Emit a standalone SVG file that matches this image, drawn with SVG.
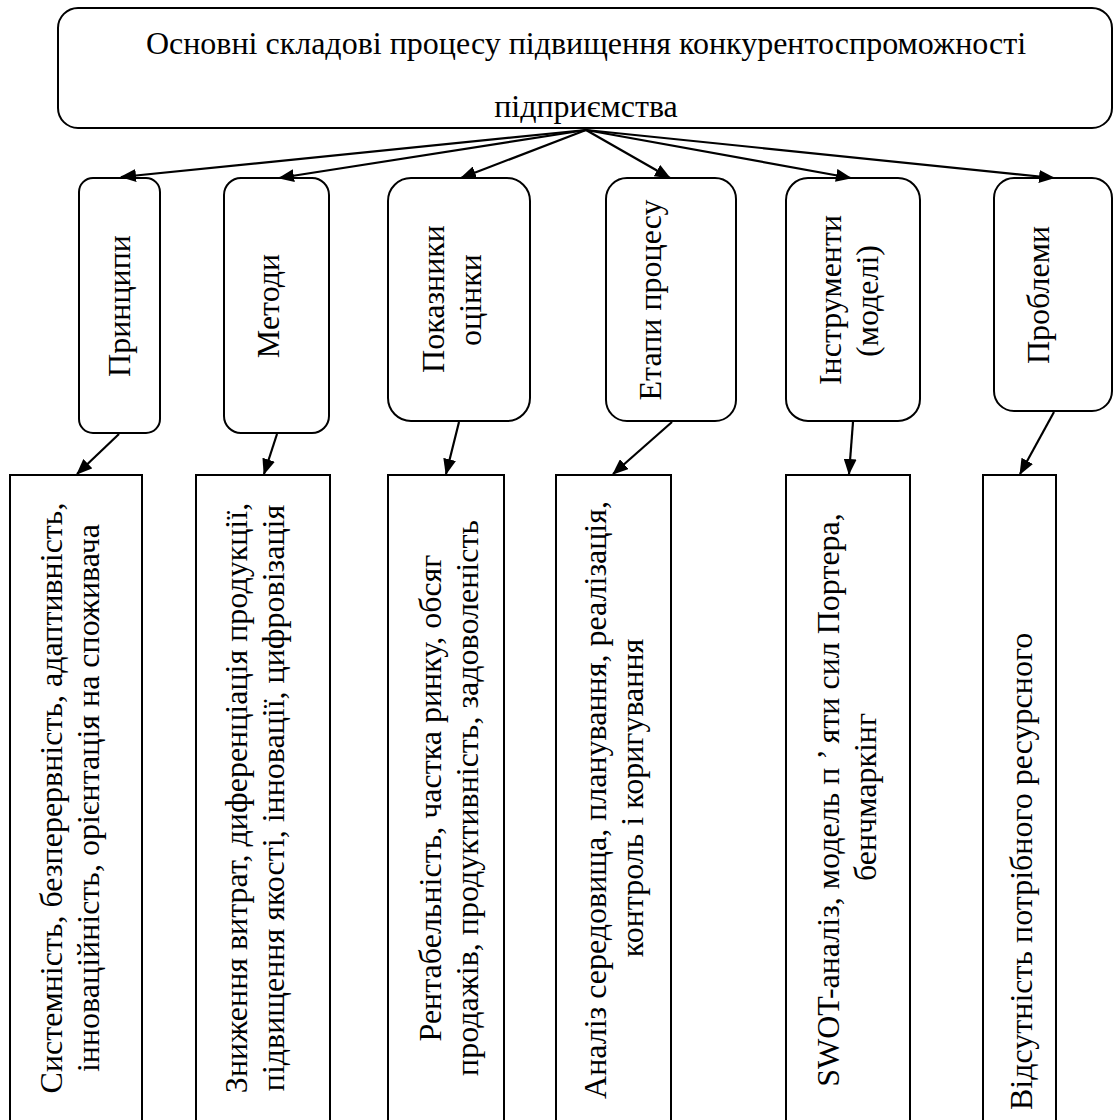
<svg xmlns="http://www.w3.org/2000/svg" width="1114" height="1120" viewBox="0 0 1114 1120">
<style>
.box{fill:#fff;stroke:#000;stroke-width:2}
.t{font-family:"Liberation Serif","Times New Roman",serif;font-size:32px;fill:#000}
.m{text-anchor:middle}
.c{stroke:#000;stroke-width:2.2;fill:none;marker-end:url(#ah)}
</style>
<defs>
<marker id="ah" markerWidth="16" markerHeight="13" refX="15" refY="6.5" orient="auto" markerUnits="userSpaceOnUse">
<path d="M0,0 L16,6.5 L0,13 z" fill="#000"/>
</marker>
</defs>
<rect width="1114" height="1120" fill="#fff"/>
<g id="root">
<rect class="box" x="58" y="8" width="1054" height="120" rx="20"/>
<text class="t m" x="586" y="54">Основні складові процесу підвищення конкурентоспроможності</text>
<text class="t m" x="586" y="117">підприємства</text>
</g>
<g id="n-pryntsypy">
<rect class="box" x="79" y="178" width="81" height="255" rx="14"/>
<text class="t m" transform="translate(130,306) rotate(-90)">Принципи</text>
</g>
<g id="n-metody">
<rect class="box" x="224" y="178" width="105" height="255" rx="17"/>
<text class="t m" transform="translate(279,306) rotate(-90)">Методи</text>
</g>
<g id="n-pokaznyky">
<rect class="box" x="388" y="178" width="142" height="243" rx="23"/>
<text class="t m" transform="translate(444,299) rotate(-90)">Показники</text>
<text class="t m" transform="translate(481,300) rotate(-90)">оцінки</text>
</g>
<g id="n-etapy">
<rect class="box" x="606" y="178" width="130" height="243" rx="21"/>
<text class="t m" transform="translate(661,300) rotate(-90)">Етапи процесу</text>
</g>
<g id="n-instrumenty">
<rect class="box" x="786" y="178" width="134" height="243" rx="22"/>
<text class="t m" transform="translate(841,300) rotate(-90)">Інструменти</text>
<text class="t m" transform="translate(878,301) rotate(-90)">(моделі)</text>
</g>
<g id="n-problemy">
<rect class="box" x="994" y="178" width="118" height="233" rx="20"/>
<text class="t m" transform="translate(1049,295) rotate(-90)">Проблеми</text>
</g>
<g id="d-pryntsypy">
<rect class="box" x="10" y="475" width="132" height="650"/>
<text class="t m" transform="translate(62,798) rotate(-90)">Системність, безперервність, адаптивність,</text>
<text class="t m" transform="translate(99,798) rotate(-90)">інноваційність, орієнтація на споживача</text>
</g>
<g id="d-metody">
<rect class="box" x="196" y="475" width="134" height="650"/>
<text class="t m" transform="translate(247,798) rotate(-90)">Зниження витрат, диференціація продукції,</text>
<text class="t m" transform="translate(284,798) rotate(-90)">підвищення якості, інновації, цифровізація</text>
</g>
<g id="d-pokaznyky">
<rect class="box" x="388" y="475" width="116" height="650"/>
<text class="t m" transform="translate(441,798) rotate(-90)">Рентабельність, частка ринку, обсяг</text>
<text class="t m" transform="translate(478,798) rotate(-90)">продажів, продуктивність, задоволеність</text>
</g>
<g id="d-etapy">
<rect class="box" x="556" y="475" width="115" height="650"/>
<text class="t m" transform="translate(606,800) rotate(-90)">Аналіз середовища, планування, реалізація,</text>
<text class="t m" transform="translate(643,798) rotate(-90)">контроль і коригування</text>
</g>
<g id="d-instrumenty">
<rect class="box" x="786" y="475" width="124" height="650"/>
<text class="t m" transform="translate(839,800) rotate(-90)">SWOT-аналіз, модель п<tspan dx="8">’</tspan> яти сил Портера,</text>
<text class="t m" transform="translate(876,797) rotate(-90)">бенчмаркінг</text>
</g>
<g id="d-problemy">
<rect class="box" x="983" y="475" width="73" height="650"/>
<text class="t" transform="translate(1032,1110) rotate(-90)">Відсутність потрібного ресурсного</text>
</g>
<g id="connectors">
<line class="c" x1="586" y1="130" x2="121" y2="177"/>
<line class="c" x1="586" y1="130" x2="279" y2="178"/>
<line class="c" x1="586" y1="130" x2="461" y2="178"/>
<line class="c" x1="586" y1="130" x2="670" y2="178"/>
<line class="c" x1="586" y1="130" x2="851" y2="178"/>
<line class="c" x1="586" y1="130" x2="1054" y2="178"/>
<line class="c" x1="119" y1="434" x2="77" y2="474"/>
<line class="c" x1="277" y1="434" x2="264" y2="474"/>
<line class="c" x1="459" y1="422" x2="446" y2="474"/>
<line class="c" x1="672" y1="422" x2="613" y2="474"/>
<line class="c" x1="853" y1="422" x2="849" y2="474"/>
<line class="c" x1="1054" y1="412" x2="1020" y2="474"/>
</g>
</svg>
